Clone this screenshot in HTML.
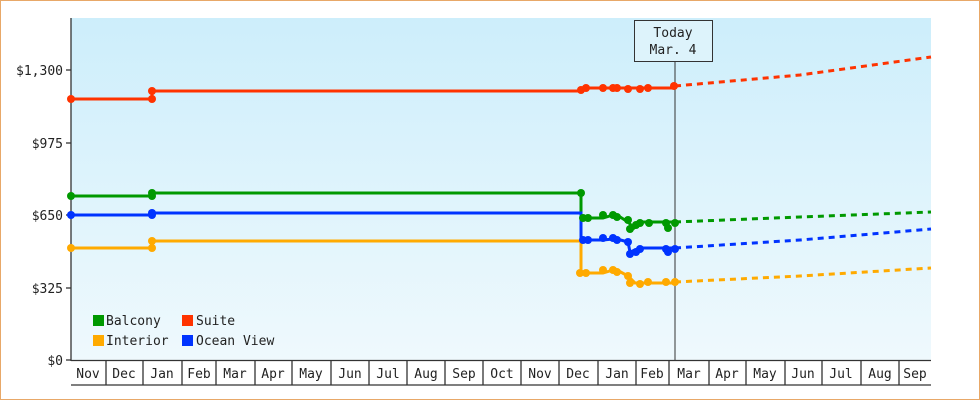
<!DOCTYPE html><html><head><style>body{margin:0}svg{display:block}text{font-family:"DejaVu Sans Mono","Liberation Mono",monospace;font-size:13px;fill:#222}</style></head><body>
<svg width="980" height="400" xmlns="http://www.w3.org/2000/svg">
<defs><linearGradient id="g" x1="0" y1="0" x2="0" y2="1"><stop offset="0" stop-color="#cdeefb"/><stop offset="1" stop-color="#eff9fd"/></linearGradient></defs>
<rect x="0.5" y="0.5" width="979" height="399" fill="#fff" stroke="#e8a868"/>
<rect x="71" y="18" width="860" height="342" fill="url(#g)"/>
<g stroke="#333" stroke-width="1.3" fill="none">
<line x1="71" y1="18" x2="71" y2="361"/><line x1="71" y1="360.5" x2="931" y2="360.5"/>
<line x1="71" y1="385" x2="931" y2="385"/>
<line x1="66" y1="70" x2="71" y2="70"/><line x1="66" y1="143" x2="71" y2="143"/><line x1="66" y1="215" x2="71" y2="215"/><line x1="66" y1="288" x2="71" y2="288"/><line x1="66" y1="360" x2="71" y2="360"/>
<path d="M106 361V385M143 361V385M182 361V385M216 361V385M255 361V385M292 361V385M331 361V385M369 361V385M407 361V385M445 361V385M483 361V385M521 361V385M559 361V385M598 361V385M636 361V385M669 361V385M709 361V385M746 361V385M785 361V385M822 361V385M861 361V385M899 361V385"/>
</g>
<g text-anchor="end"><text x="63" y="75">$1,300</text><text x="63" y="148">$975</text><text x="63" y="220">$650</text><text x="63" y="293">$325</text><text x="63" y="365">$0</text></g>
<g text-anchor="middle"><text x="88" y="378">Nov</text><text x="124" y="378">Dec</text><text x="162" y="378">Jan</text><text x="199" y="378">Feb</text><text x="235" y="378">Mar</text><text x="273" y="378">Apr</text><text x="311" y="378">May</text><text x="350" y="378">Jun</text><text x="388" y="378">Jul</text><text x="426" y="378">Aug</text><text x="464" y="378">Sep</text><text x="502" y="378">Oct</text><text x="540" y="378">Nov</text><text x="578" y="378">Dec</text><text x="617" y="378">Jan</text><text x="652" y="378">Feb</text><text x="689" y="378">Mar</text><text x="727" y="378">Apr</text><text x="765" y="378">May</text><text x="803" y="378">Jun</text><text x="841" y="378">Jul</text><text x="880" y="378">Aug</text><text x="915" y="378">Sep</text></g>
<line x1="675" y1="62" x2="675" y2="360" stroke="#333"/>
<rect x="634.5" y="20.5" width="78" height="41" fill="#ddf3fb" stroke="#333"/>
<text x="673" y="37" text-anchor="middle">Today</text><text x="673" y="54" text-anchor="middle">Mar. 4</text>
<g fill="none" stroke-width="3">
<path stroke="#ff3300" d="M71 99H152V91H581V88H675"/>
<path stroke="#ff3300" stroke-dasharray="6,5" d="M675 86L800 75L931 57"/>
<path stroke="#009900" d="M71 196H152V193H581V218H603L613 215H617L628 222L634 228L640 222H675"/>
<path stroke="#009900" stroke-dasharray="6,5" d="M675 222L800 217L931 212"/>
<path stroke="#0033ff" d="M71 215H152V213H581V240H603L613 239H617L628 242L630 252L640 248H675"/>
<path stroke="#0033ff" stroke-dasharray="6,5" d="M675 248L800 240L931 229"/>
<path stroke="#ffaa00" d="M71 248H152V241H581V273H603L613 270H617L628 276L635 283H675"/>
<path stroke="#ffaa00" stroke-dasharray="6,5" d="M675 282L800 276L931 268"/>
</g>
<g fill="#ff3300"><circle cx="71" cy="99" r="4"/><circle cx="152" cy="99" r="4"/><circle cx="152" cy="91" r="4"/><circle cx="581" cy="90" r="4"/><circle cx="586" cy="88" r="4"/><circle cx="603" cy="88" r="4"/><circle cx="613" cy="88" r="4"/><circle cx="617" cy="88" r="4"/><circle cx="628" cy="89" r="4"/><circle cx="640" cy="89" r="4"/><circle cx="648" cy="88" r="4"/><circle cx="674" cy="86" r="4"/></g>
<g fill="#009900"><circle cx="71" cy="196" r="4"/><circle cx="152" cy="196" r="4"/><circle cx="152" cy="193" r="4"/><circle cx="581" cy="193" r="4"/><circle cx="583" cy="218" r="4"/><circle cx="588" cy="218" r="4"/><circle cx="603" cy="215" r="4"/><circle cx="613" cy="215" r="4"/><circle cx="617" cy="217" r="4"/><circle cx="628" cy="220" r="4"/><circle cx="630" cy="229" r="4"/><circle cx="636" cy="225" r="4"/><circle cx="640" cy="223" r="4"/><circle cx="649" cy="223" r="4"/><circle cx="666" cy="223" r="4"/><circle cx="668" cy="228" r="4"/><circle cx="675" cy="223" r="4"/></g>
<g fill="#0033ff"><circle cx="71" cy="215" r="4"/><circle cx="152" cy="215" r="4"/><circle cx="152" cy="213" r="4"/><circle cx="583" cy="240" r="4"/><circle cx="588" cy="240" r="4"/><circle cx="603" cy="238" r="4"/><circle cx="613" cy="238" r="4"/><circle cx="617" cy="240" r="4"/><circle cx="628" cy="242" r="4"/><circle cx="630" cy="254" r="4"/><circle cx="636" cy="252" r="4"/><circle cx="640" cy="249" r="4"/><circle cx="666" cy="249" r="4"/><circle cx="668" cy="252" r="4"/><circle cx="675" cy="249" r="4"/></g>
<g fill="#ffaa00"><circle cx="71" cy="248" r="4"/><circle cx="152" cy="248" r="4"/><circle cx="152" cy="241" r="4"/><circle cx="580" cy="273" r="4"/><circle cx="586" cy="273" r="4"/><circle cx="603" cy="270" r="4"/><circle cx="613" cy="270" r="4"/><circle cx="617" cy="272" r="4"/><circle cx="628" cy="276" r="4"/><circle cx="630" cy="283" r="4"/><circle cx="640" cy="284" r="4"/><circle cx="648" cy="282" r="4"/><circle cx="666" cy="282" r="4"/><circle cx="675" cy="282" r="4"/></g>
<rect x="93" y="315" width="11" height="11" fill="#009900"/><text x="106" y="325">Balcony</text>
<rect x="182" y="315" width="11" height="11" fill="#ff3300"/><text x="196" y="325">Suite</text>
<rect x="93" y="335" width="11" height="11" fill="#ffaa00"/><text x="106" y="345">Interior</text>
<rect x="182" y="335" width="11" height="11" fill="#0033ff"/><text x="196" y="345">Ocean View</text>
</svg></body></html>
